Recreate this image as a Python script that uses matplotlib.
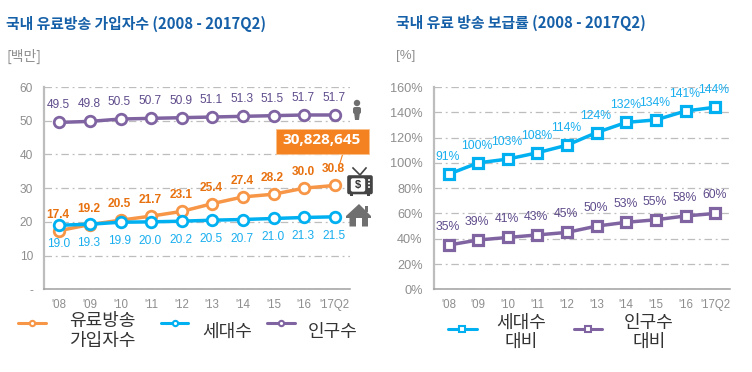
import matplotlib
matplotlib.use('Agg')
import matplotlib.pyplot as plt
from matplotlib.patches import Rectangle, Polygon, Circle, FancyBboxPatch
from matplotlib.lines import Line2D

W, H = 752, 372
KR = ['Noto Sans CJK KR', 'DejaVu Sans']
NUM = ['Liberation Sans', 'DejaVu Sans']
plt.rcParams['font.family'] = KR

years = ["'08", "'09", "'10", "'11", "'12", "'13", "'14", "'15", "'16", "'17Q2"]
subscribers = [17.4, 19.2, 20.5, 21.7, 23.1, 25.4, 27.4, 28.2, 30.0, 30.8]
households = [19.0, 19.3, 19.9, 20.0, 20.2, 20.5, 20.7, 21.0, 21.3, 21.5]
population = [49.5, 49.8, 50.5, 50.7, 50.9, 51.1, 51.3, 51.5, 51.7, 51.7]
household_rate = [91, 100, 103, 108, 114, 124, 132, 134, 141, 144]
population_rate = [35, 39, 41, 43, 45, 50, 53, 55, 58, 60]
left_ticks = [0, 10, 20, 30, 40, 50, 60]
left_tick_labels = ['-', '10', '20', '30', '40', '50', '60']
right_ticks = [0, 20, 40, 60, 80, 100, 120, 140, 160]
right_tick_labels = ['0%', '20%', '40%', '60%', '80%', '100%', '120%', '140%', '160%']

ORANGE, ORANGE_T = '#f79646', '#e8710f'
CYAN, CYAN_T = '#00b0f0', '#19aeee'
PURPLE, PURPLE_T = '#8064a2', '#5f4b8b'
TITLE = '#1560a8'
GREY = '#8e8e8e'
ICON = '#6f6f6f'

fig = plt.figure(figsize=(W / 100, H / 100), dpi=100, facecolor='white')


def make_axes(x0, x1, ytop, ybot):
    return fig.add_axes([x0 / W, 1 - ybot / H, (x1 - x0) / W, (ybot - ytop) / H])


def style(ax, ymax, ticks, labels, tick_size):
    n = len(years)
    ax.set_xlim(-0.5, n - 0.5)
    ax.set_ylim(0, ymax)
    ax.set_xticks(range(n))
    ax.set_xticklabels(years, fontsize=8.3, color=GREY, family=NUM)
    ax.set_yticks(ticks)
    ax.set_yticklabels(labels, fontsize=tick_size, color=GREY, family=NUM)
    ax.tick_params(length=0, axis='x', pad=7)
    ax.tick_params(length=0, axis='y', pad=8)
    ax.grid(axis='y', color='#bdbdbd', lw=0.9, ls=(0, (6, 3, 1.5, 3)))
    ax.set_axisbelow(True)
    ax.spines['top'].set_visible(False)
    ax.spines['right'].set_visible(False)
    ax.spines['left'].set_color('#bdbdbd')
    ax.spines['left'].set_linewidth(1.6)
    ax.spines['bottom'].set_color('#a0a0a0')
    ax.spines['bottom'].set_linewidth(1.1)


def series(ax, vals, color, marker, ms=7.6, mew=2.0, lw=2.5, z=3):
    ax.plot(range(len(vals)), vals, color=color, lw=lw, marker=marker, ms=ms,
            mfc='white', mec=color, mew=mew, zorder=z, clip_on=False)


def labels(ax, vals, color, dy, fmt, weight='normal', size=8.6, dx=-1):
    for i, v in enumerate(vals):
        ax.annotate(fmt.format(v), (i, v), xytext=(dx * 0.72, dy * 0.72),
                    textcoords='offset points', ha='center', va='center',
                    color=color, fontsize=size, fontweight=weight, family=NUM, zorder=6)


def ftext(x, y, s, **kw):
    fig.text(x / W, 1 - y / H, s, **kw)


# ---- left chart
ax1 = make_axes(44, 350, 87, 289.3)
style(ax1, 60, left_ticks, left_tick_labels, 8.6)
series(ax1, subscribers, ORANGE, 'o', z=3)
series(ax1, population, PURPLE, 'o', z=3)
series(ax1, households, CYAN, 'o', z=4)
labels(ax1, population, PURPLE_T, 17, '{:.1f}')
labels(ax1, subscribers, ORANGE_T, 16, '{:.1f}', weight='bold')
labels(ax1, households, CYAN_T, -19, '{:.1f}')

# ---- right chart
ax2 = make_axes(433.7, 730, 87, 289.3)
style(ax2, 160, right_ticks, right_tick_labels, 9.2)
series(ax2, household_rate, CYAN, 's', ms=6.8, mew=2.3)
series(ax2, population_rate, PURPLE, 's', ms=6.8, mew=2.3)
labels(ax2, household_rate, CYAN_T, 17, '{:d}%', size=8.8)
labels(ax2, population_rate, PURPLE_T, 18, '{:d}%', size=8.8)

# ---- titles and units
ftext(6, 24, '국내 유료방송 가입자수 (2008 - 2017Q2)', fontsize=10.7, fontweight='bold',
      color=TITLE, va='center', family=KR)
ftext(396, 23, '국내 유료 방송 보급률 (2008 - 2017Q2)', fontsize=10.7, fontweight='bold',
      color=TITLE, va='center', family=KR)
ftext(7, 56, '[백만]', fontsize=10, color=GREY, va='center', family=KR)
ftext(396, 56, '[%]', fontsize=9.5, color=GREY, va='center', family=NUM)


# ---- overlay in pixel space for legend, callout and icons
ov = fig.add_axes([0, 0, 1, 1], facecolor='none', zorder=10)
ov.set_xlim(0, W)
ov.set_ylim(H, 0)
ov.axis('off')


def legend_key(x0, x1, y, color, marker):
    ov.plot([x0, x1], [y, y], color=color, lw=2.2, solid_capstyle='round')
    ov.plot([(x0 + x1) / 2], [y], marker=marker, ms=3.8, mfc='white', mec=color, mew=1.5)


def legend_text(x, y, s):
    ov.text(x, y, s, fontsize=13, color='#333333', ha='center', va='center',
            linespacing=1.12, family=KR)


legend_key(18, 46, 322.5, ORANGE, 'o')
legend_text(102, 331, '유료방송\n가입자수')
legend_key(161, 188, 322.5, CYAN, 'o')
legend_text(227, 332, '세대수')
legend_key(267, 295, 322.5, PURPLE, 'o')
legend_text(333, 332, '인구수')
legend_key(448, 476.5, 329, CYAN, 's')
legend_text(521, 332.5, '세대수\n대비')
legend_key(574, 602, 329, PURPLE, 's')
legend_text(649, 332.5, '인구수\n대비')

# callout
ov.plot([343, 338.5], [153, 168], color='#f58220', lw=0.8)
ov.add_patch(Rectangle((276, 128.5), 93, 25, fc='#f58220', ec='#f9c08c', lw=0.6, zorder=5))
ov.text(322, 140.5, '30,828,645', color='white', fontsize=11, fontweight='bold',
        ha='center', va='center', family=['Open Sans', 'DejaVu Sans'], zorder=6)

# person icon
ov.add_patch(Circle((357, 103), 3.2, fc=ICON, ec='none'))
ov.add_patch(FancyBboxPatch((353.5, 107.5), 7, 6, boxstyle='round,pad=0.5,rounding_size=2',
                            fc=ICON, ec='none'))
ov.add_patch(Polygon([(354, 112), (360, 112), (359, 120), (355, 120)], closed=True,
                     fc=ICON, ec='none'))

# tv icon
ov.add_patch(FancyBboxPatch((347.5, 175.5), 25, 18.5, boxstyle='round,pad=0.3,rounding_size=2',
                            fc='#444444', ec='none'))
ov.add_patch(FancyBboxPatch((351, 178.5), 14, 13, boxstyle='round,pad=0.2,rounding_size=2',
                            fc='white', ec='none'))
ov.text(358, 185, '$', color='#333333', fontsize=8, fontweight='bold', ha='center', va='center',
        family=NUM)
ov.add_line(Line2D([353, 360, 366], [168, 175, 168], color='#444444', lw=1.2))
for y in (180, 183.5, 187):
    ov.add_patch(Circle((369, y), 1, fc='white', ec='none'))
ov.add_patch(Rectangle((350, 194), 3, 1.5, fc='#444444', ec='none'))
ov.add_patch(Rectangle((367, 194), 3, 1.5, fc='#444444', ec='none'))

# house icon
ov.add_patch(Polygon([(346, 216), (359, 204), (371, 216), (371, 218), (368, 218), (368, 226.5),
                      (349.5, 226.5), (349.5, 218), (346, 218)], closed=True, fc=ICON, ec='none'))
ov.add_patch(Rectangle((364.5, 206), 3, 6, fc=ICON, ec='none'))
ov.add_patch(Rectangle((355.5, 218), 6, 8.5, fc='white', ec='none'))

fig.savefig('out.png', dpi=100, facecolor='white')
